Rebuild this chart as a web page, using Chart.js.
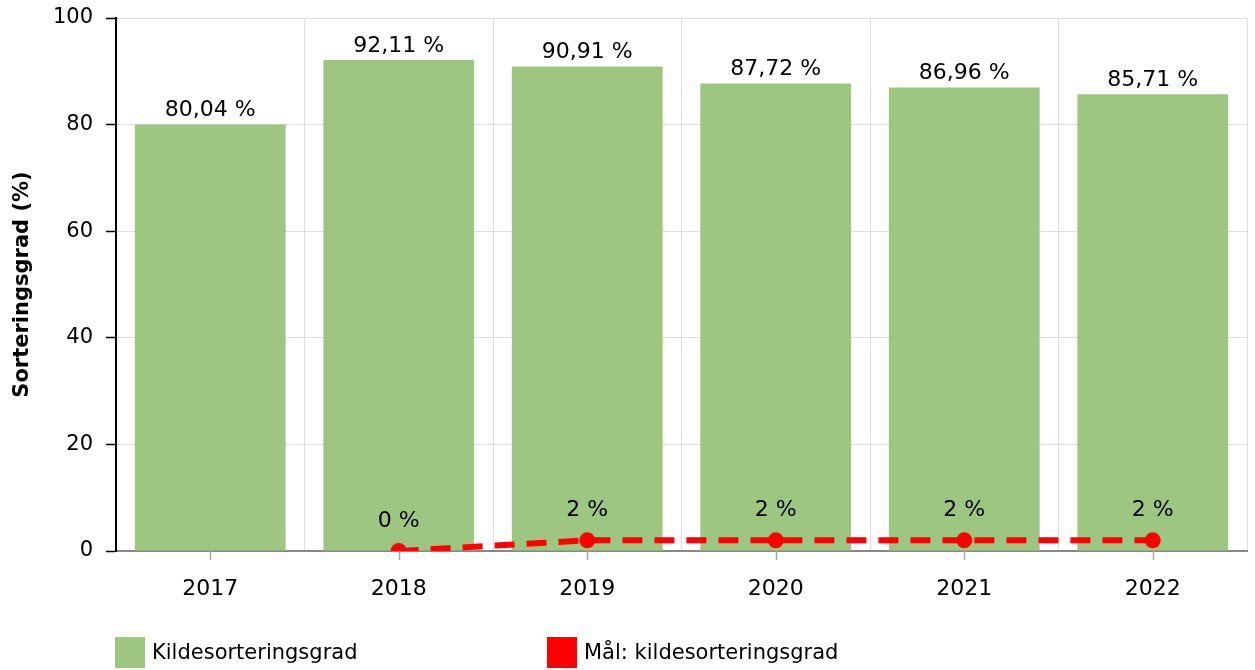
<!DOCTYPE html>
<html>
<head>
<meta charset="utf-8">
<script src="https://cdn.jsdelivr.net/npm/chart.js@4/dist/chart.umd.min.js"></script>
<style>
  html, body { margin: 0; padding: 0; background: #fff; overflow: hidden; }
  #wrap { width: 1255px; height: 670px; position: relative; }
  canvas { display: block; }
</style>
</head>
<body>
<div id="wrap"><canvas id="chart"></canvas></div>
<script>
// Data
const years = ['2017', '2018', '2019', '2020', '2021', '2022'];
const sortingRate = [80.04, 92.11, 90.91, 87.72, 86.96, 85.71];
const sortingGoal = [null, 0, 2, 2, 2, 2];
const yTicks = [0, 20, 40, 60, 80, 100];

const barLabel = 'Kildesorteringsgrad';
const goalLabel = 'Mål: kildesorteringsgrad';
const yTitle = 'Sorteringsgrad (%)';

const FONT = "'DejaVu Sans', Verdana, sans-serif";
const GREEN = '#9dc681';
const RED = '#ff0000';

Chart.defaults.font.family = FONT;
Chart.defaults.color = '#000';

function fmt(v) {
    return String(v).replace('.', ',') + ' %';
}

// Value labels above bars and points
const valueLabels = {
    id: 'valueLabels',
    afterDatasetsDraw(chart) {
        const ctx = chart.ctx;
        ctx.save();
        ctx.font = '22px ' + FONT;
        ctx.fillStyle = '#000';
        ctx.textAlign = 'center';
        ctx.textBaseline = 'middle';
        chart.data.datasets.forEach((ds, i) => {
            const meta = chart.getDatasetMeta(i);
            meta.data.forEach((el, j) => {
                const v = ds.data[j];
                if (v === null || v === undefined) return;
                const off = ds.type === 'line' ? 30 : 14;
                ctx.fillText(fmt(v), el.x, el.y - off);
            });
        });
        ctx.restore();
    }
};

// Small tick marks under category centers
const xTickMarks = {
    id: 'xTickMarks',
    afterDraw(chart) {
        const x = chart.scales.x;
        const ctx = chart.ctx;
        ctx.save();
        ctx.strokeStyle = '#aaa';
        ctx.lineWidth = 1.5;
        years.forEach((_, i) => {
            const px = Math.round(x.getPixelForValue(i)) + 0.5;
            ctx.beginPath();
            ctx.moveTo(px, x.top);
            ctx.lineTo(px, x.top + 9);
            ctx.stroke();
        });
        ctx.restore();
    }
};

// Legend drawn at fixed columns
const bottomLegend = {
    id: 'bottomLegend',
    afterDraw(chart) {
        const ctx = chart.ctx;
        const items = [
            { text: barLabel, color: GREEN, x: 115 },
            { text: goalLabel, color: RED, x: 547 }
        ];
        ctx.save();
        ctx.font = '21px ' + FONT;
        ctx.textBaseline = 'middle';
        items.forEach(it => {
            ctx.fillStyle = it.color;
            ctx.fillRect(it.x, 637, 30, 31);
            ctx.fillStyle = '#000';
            ctx.fillText(it.text, it.x + 37, 654);
        });
        ctx.restore();
    }
};

function zeroPad(scale) {
    scale.paddingTop = 0;
    scale.paddingBottom = 0;
    scale.paddingLeft = 0;
    scale.paddingRight = 0;
}

new Chart(document.getElementById('chart'), {
    data: {
        labels: years,
        datasets: [
            {
                type: 'line',
                label: goalLabel,
                data: sortingGoal,
                borderColor: RED,
                backgroundColor: RED,
                borderWidth: 6,
                borderDash: [20, 12],
                pointRadius: 8,
                pointBackgroundColor: RED,
                pointBorderWidth: 0,
                tension: 0,
                order: 0
            },
            {
                type: 'bar',
                label: barLabel,
                data: sortingRate,
                backgroundColor: GREEN,
                categoryPercentage: 1,
                barPercentage: 0.8,
                order: 1
            }
        ]
    },
    options: {
        responsive: true,
        maintainAspectRatio: false,
        animation: false,
        layout: {
            padding: { top: 18, right: 2, bottom: 60, left: 0 }
        },
        plugins: {
            legend: { display: false },
            tooltip: { enabled: false }
        },
        scales: {
            x: {
                offset: true,
                grid: {
                    offset: true,
                    color: '#dddddd',
                    lineWidth: 1,
                    drawTicks: false
                },
                border: { color: '#888', width: 2 },
                ticks: {
                    padding: 25,
                    font: { size: 22 },
                    color: '#000'
                },
                afterFit(scale) {
                    scale.height = 59;
                    zeroPad(scale);
                }
            },
            y: {
                min: 0,
                max: 100,
                afterBuildTicks(scale) {
                    scale.ticks = yTicks.map(v => ({ value: v }));
                },
                grid: {
                    color: '#dddddd',
                    lineWidth: 1,
                    tickColor: '#000',
                    tickLength: 10,
                    tickWidth: 1.5
                },
                border: { color: '#000', width: 2 },
                ticks: {
                    padding: 13,
                    font: { size: 21 },
                    color: '#000'
                },
                title: {
                    display: true,
                    text: yTitle,
                    font: { size: 21, weight: 'bold' },
                    color: '#000',
                    padding: { top: 10, bottom: 0 }
                },
                afterFit(scale) {
                    scale.width = 116;
                    zeroPad(scale);
                }
            }
        }
    },
    plugins: [valueLabels, xTickMarks, bottomLegend]
});
</script>
</body>
</html>
